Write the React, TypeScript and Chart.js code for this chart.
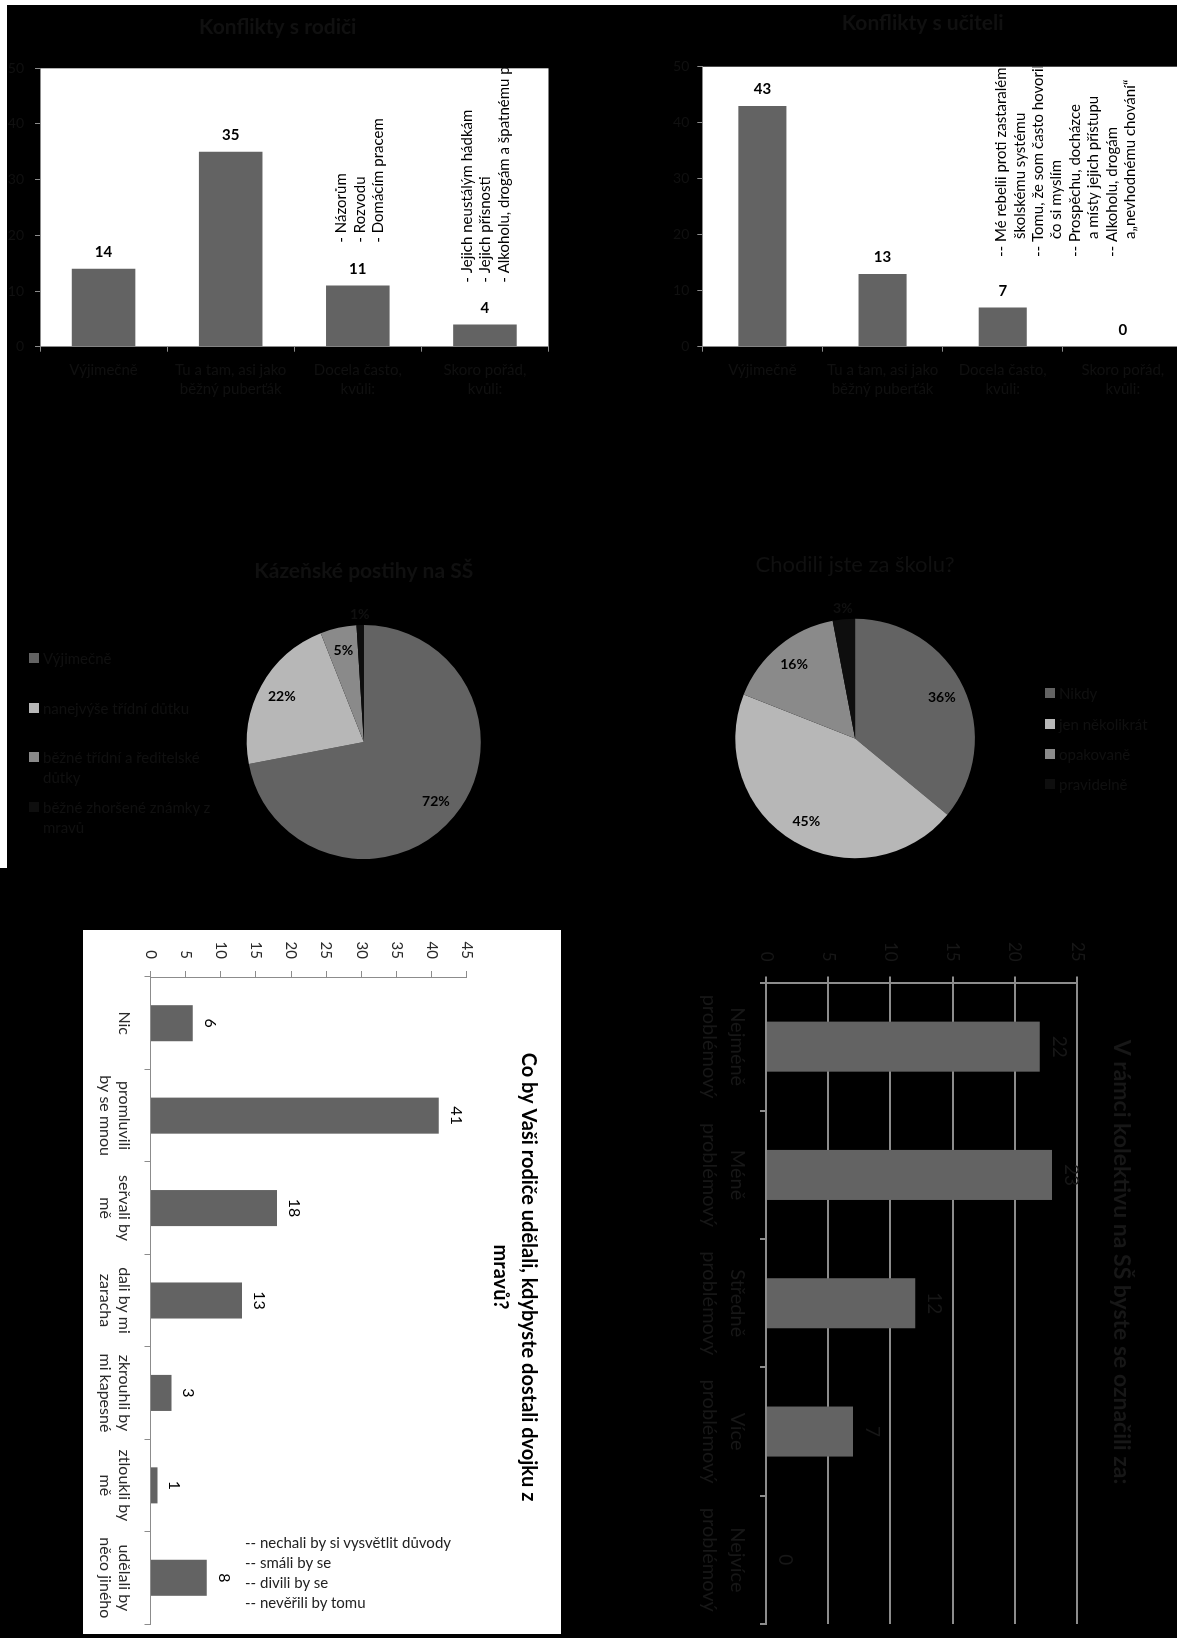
import React, { useEffect, useRef } from 'react';
import { Chart, registerables } from 'chart.js';

Chart.register(...registerables);

const FONT = "Lato, 'Noto Sans', sans-serif";
const DARK = '#101010';
const DARK2 = '#171717';
const AXIS = '#8c8c8c';
const BAR = '#636363';

// ---- Konflikty s rodiči ----
const rodiceLabels = [['Výjimečně'], ['Tu a tam, asi jako', 'běžný puberťák'], ['Docela často,', 'kvůli:'], ['Skoro pořád,', 'kvůli:']];
const rodiceValues = [14, 35, 11, 4];
const rodiceNote3 = ['- Názorům', '- Rozvodu', '- Domácím pracem'];
const rodiceNote4 = ['- Jejich neustálým hádkám', '- Jejich přísnosti', '- Alkoholu, drogám a špatnému p'];

// ---- Konflikty s učiteli ----
const uciteleLabels = [['Výjimečně'], ['Tu a tam, asi jako', 'běžný puberťák'], ['Docela často,', 'kvůli:'], ['Skoro pořád,', 'kvůli:']];
const uciteleValues = [43, 13, 7, 0];
const uciteleNote = [
  '-- Mé rebelii proti zastaralému',
  '  školskému systému',
  '-- Tomu, že som často hovorila',
  '  čo si myslím',
  '-- Prospěchu, docházce',
  '  a místy jejich přístupu',
  '-- Alkoholu, drogám',
  '  a„nevhodnému chování“',
];
const topTicks = { min: 0, max: 50, step: 10 };

// ---- Kázeňské postihy na SŠ ----
const postihyLabels = ['Výjimečně', 'nanejvýše třídní důtku', 'běžné třídní a ředitelské důtky', 'běžné zhoršené známky z mravů'];
const postihyValues = [72, 22, 5, 1];

// ---- Chodili jste za školu? ----
const skolaLabels = ['Nikdy', 'jen několikrát', 'opakovaně', 'pravidelně'];
const skolaValues = [36, 45, 16, 3];

const pieColors = ['#636363', '#b7b7b7', '#8a8a8a', '#0e0e0e'];

// ---- Co by Vaši rodiče udělali ----
const dvojkaLabels = [['Nic'], ['promluvili', 'by se mnou'], ['seřvali by', 'mě'], ['dali by mi', 'zaracha'], ['zkrouhli by', 'mi kapesné'], ['ztloukli by', 'mě'], ['udělali by', 'něco jiného']];
const dvojkaValues = [6, 41, 18, 13, 3, 1, 8];
const dvojkaNotes = ['-- nechali by si vysvětlit důvody', '-- smáli by se', '-- divili by se', '-- nevěřili by tomu'];
const dvojkaTicks = { min: 0, max: 45, step: 5 };

// ---- V rámci kolektivu ----
const kolektivLabels = [['Nejméně', 'problémový'], ['Méně', 'problémový'], ['Středně', 'problémový'], ['Více', 'problémový'], ['Nejvíce', 'problémový']];
const kolektivValues = [22, 23, 12, 7, 0];
const kolektivTicks = { min: 0, max: 25, step: 5 };

// ---------- plugins ----------
const plotBg = (color: string) => ({
  id: 'plotBg',
  beforeDraw(chart: any) {
    const { ctx, chartArea: a } = chart;
    ctx.save();
    ctx.fillStyle = color;
    ctx.fillRect(a.left, a.top, a.right - a.left, a.bottom - a.top);
    ctx.restore();
  },
});

const valueLabels = (size: number, weight: string, color: string, offset: number) => ({
  id: 'valueLabels',
  afterDatasetsDraw(chart: any) {
    const ctx = chart.ctx;
    const meta = chart.getDatasetMeta(0);
    const data = chart.data.datasets[0].data;
    ctx.save();
    ctx.font = `${weight} ${size}px ${FONT}`;
    ctx.fillStyle = color;
    ctx.textAlign = 'center';
    ctx.textBaseline = 'middle';
    meta.data.forEach((el: any, i: number) => {
      ctx.fillText(String(data[i]), el.x, el.y - offset);
    });
    ctx.restore();
  },
});

type NoteGroup = { index: number; lines: string[]; dx: number; gap: number };
const notes = (groups: NoteGroup[], size: number, spacing: number) => ({
  id: 'notes',
  afterDatasetsDraw(chart: any) {
    const { ctx, chartArea: a, scales } = chart;
    ctx.save();
    ctx.beginPath();
    ctx.rect(a.left, a.top, a.right - a.left, a.bottom - a.top);
    ctx.clip();
    ctx.font = `${size}px ${FONT}`;
    ctx.fillStyle = '#000';
    ctx.textBaseline = 'middle';
    ctx.textAlign = 'left';
    const indent = ctx.measureText('-- ').width + 3;
    groups.forEach((g) => {
      const val = chart.data.datasets[0].data[g.index];
      const x0 = scales.x.getPixelForValue(g.index) + g.dx;
      const y0 = scales.y.getPixelForValue(val) - g.gap;
      g.lines.forEach((line, j) => {
        const cont = line.startsWith(' ');
        ctx.save();
        ctx.translate(x0 + j * spacing, y0 - (cont ? indent : 0));
        ctx.rotate(-Math.PI / 2);
        ctx.fillText(line.trim(), 0, 0);
        ctx.restore();
      });
    });
    ctx.restore();
  },
});

const pieLabels = (size: number, inColor: string, outColor: string) => ({
  id: 'pieLabels',
  afterDatasetsDraw(chart: any) {
    const ctx = chart.ctx;
    const meta = chart.getDatasetMeta(0);
    const data = chart.data.datasets[0].data as number[];
    const total = data.reduce((s, v) => s + v, 0);
    ctx.save();
    ctx.font = `bold ${size}px ${FONT}`;
    ctx.textAlign = 'center';
    ctx.textBaseline = 'middle';
    meta.data.forEach((el: any, i: number) => {
      const p = el.getProps(['startAngle', 'endAngle', 'outerRadius', 'x', 'y'], true);
      const mid = (p.startAngle + p.endAngle) / 2;
      const small = data[i] / total < 0.04;
      const r = p.outerRadius * (small ? 1.09 : 0.8);
      ctx.fillStyle = small ? outColor : inColor;
      ctx.fillText(Math.round((data[i] / total) * 100) + '%', p.x + Math.cos(mid) * r, p.y + Math.sin(mid) * r);
    });
    ctx.restore();
  },
});

// ---------- config builders ----------
function topBarConfig(opts: {
  title: string; labels: string[][]; values: number[]; catPct: number;
  padLeft: number; padRight: number; titleTop: number; titleBottom: number;
  yWidth: number; yPad: number; xHeight: number; notesPlugin: any;
}) {
  return {
    type: 'bar',
    data: {
      labels: opts.labels,
      datasets: [{ data: opts.values, backgroundColor: BAR, borderWidth: 0, barPercentage: 1, categoryPercentage: opts.catPct }],
    },
    options: {
      responsive: false,
      animation: false,
      layout: { padding: { left: opts.padLeft, right: opts.padRight, top: 0, bottom: 0 } },
      plugins: {
        legend: { display: false },
        tooltip: { enabled: false },
        title: {
          display: true, text: opts.title, color: DARK,
          font: { family: FONT, size: 21, weight: 'bold', lineHeight: 1.2 },
          padding: { top: opts.titleTop, bottom: opts.titleBottom },
        },
      },
      scales: {
        y: {
          min: topTicks.min, max: topTicks.max,
          ticks: { stepSize: topTicks.step, color: DARK, font: { family: FONT, size: 14 }, padding: opts.yPad },
          grid: { drawOnChartArea: false, drawTicks: true, tickLength: 5, color: AXIS },
          border: { color: AXIS, width: 1 },
          afterFit: (s: any) => { s.width = opts.yWidth; },
        },
        x: {
          ticks: { color: DARK, font: { family: FONT, size: 15, lineHeight: 1.33 }, padding: 8, maxRotation: 0, autoSkip: false },
          grid: { drawOnChartArea: false, drawTicks: true, tickLength: 5, color: AXIS, offset: true },
          border: { color: AXIS, width: 1 },
          afterFit: (s: any) => { s.height = opts.xHeight; },
        },
      },
    },
    plugins: [plotBg('#ffffff'), valueLabels(15, 'bold', '#000', 16.5), opts.notesPlugin],
  };
}

function pieConfig(opts: {
  title: string; bold: boolean; size: number; labels: string[]; values: number[];
  pad: { left: number; right: number; top: number; bottom: number }; titleTop: number; titleBottom: number;
}) {
  return {
    type: 'pie',
    data: {
      labels: opts.labels,
      datasets: [{ data: opts.values, backgroundColor: pieColors, borderWidth: 0 }],
    },
    options: {
      responsive: false,
      animation: false,
      layout: { padding: opts.pad },
      plugins: {
        legend: { display: false },
        tooltip: { enabled: false },
        title: {
          display: true, text: opts.title, color: DARK,
          font: { family: FONT, size: opts.size, weight: opts.bold ? 'bold' : 'normal', lineHeight: 1.2 },
          padding: { top: opts.titleTop, bottom: opts.titleBottom },
        },
      },
    },
    plugins: [pieLabels(14, '#000', DARK)],
  };
}

function dvojkaConfig() {
  return {
    type: 'bar',
    data: {
      labels: dvojkaLabels,
      datasets: [{ data: dvojkaValues, backgroundColor: BAR, borderWidth: 0, barPercentage: 1, categoryPercentage: 0.39 }],
    },
    options: {
      responsive: false,
      animation: false,
      layout: { padding: { left: 0, right: 10, top: 0, bottom: 0 } },
      plugins: {
        legend: { display: false },
        tooltip: { enabled: false },
        title: {
          display: true,
          text: ['Co by Vaši rodiče udělali, kdybyste dostali dvojku z', 'mravů?'],
          color: '#000',
          font: { family: FONT, size: 20, weight: 'bold', lineHeight: 1.38 },
          padding: { top: 19.2, bottom: 19.6 },
        },
      },
      scales: {
        y: {
          min: dvojkaTicks.min, max: dvojkaTicks.max,
          ticks: { stepSize: dvojkaTicks.step, color: '#2a2a2a', font: { family: FONT, size: 15 }, padding: 12 },
          grid: { drawOnChartArea: false, drawTicks: true, tickLength: 6, color: AXIS },
          border: { color: AXIS, width: 1 },
          afterFit: (s: any) => { s.width = 47; },
        },
        x: {
          ticks: { color: '#2a2a2a', font: { family: FONT, size: 16, lineHeight: 1.2 }, padding: 11, maxRotation: 0, autoSkip: false },
          grid: { drawOnChartArea: false, drawTicks: true, tickLength: 6, color: AXIS, offset: true },
          border: { color: AXIS, width: 1 },
          afterFit: (s: any) => { s.height = 67.5; },
        },
      },
    },
    plugins: [valueLabels(16, 'normal', '#000', 17)],
  };
}

function kolektivConfig() {
  return {
    type: 'bar',
    data: {
      labels: kolektivLabels,
      datasets: [{ data: kolektivValues, backgroundColor: BAR, borderWidth: 0, barPercentage: 1, categoryPercentage: 0.39 }],
    },
    options: {
      responsive: false,
      animation: false,
      layout: { padding: { left: 0, right: 47, top: 0, bottom: 0 } },
      plugins: {
        legend: { display: false },
        tooltip: { enabled: false },
        title: {
          display: true,
          text: 'V rámci kolektivu na SŠ byste se označili za:',
          color: DARK2,
          font: { family: FONT, size: 23, weight: 'bold', lineHeight: 1.2 },
          padding: { top: 25.2, bottom: 30.2 },
        },
      },
      scales: {
        y: {
          min: kolektivTicks.min, max: kolektivTicks.max,
          ticks: { stepSize: kolektivTicks.step, color: DARK2, font: { family: FONT, size: 17 }, padding: 14.8 },
          grid: { drawOnChartArea: true, drawTicks: true, tickLength: 6, color: AXIS, lineWidth: 2 },
          border: { color: AXIS, width: 2 },
          afterFit: (s: any) => { s.width = 82.5; },
        },
        x: {
          ticks: { color: DARK2, font: { family: FONT, size: 20, lineHeight: 1.4 }, padding: 9, maxRotation: 0, autoSkip: false },
          grid: { drawOnChartArea: false, drawTicks: true, tickLength: 6, color: AXIS, lineWidth: 2, offset: true },
          border: { color: AXIS, width: 2 },
          afterFit: (s: any) => { s.height = 116; },
        },
      },
    },
    plugins: [valueLabels(19, 'normal', DARK2, 19)],
  };
}

// ---------- components ----------
function ChartCanvas(props: { left: number; top: number; w: number; h: number; rotate?: boolean; bg?: string; make: () => any }) {
  const ref = useRef<HTMLCanvasElement>(null);
  useEffect(() => {
    const chart = new Chart(ref.current as HTMLCanvasElement, props.make());
    return () => chart.destroy();
  }, []);
  const style: any = {
    position: 'absolute', left: props.left, top: props.top, width: props.w, height: props.h,
    background: props.bg || 'transparent',
  };
  if (props.rotate) {
    style.transformOrigin = '0 0';
    style.transform = `translate(${props.h}px, 0px) rotate(90deg)`;
  }
  return (
    <div style={style}>
      <canvas ref={ref} width={props.w} height={props.h} style={{ display: 'block', width: props.w, height: props.h }} />
    </div>
  );
}

function Legend(props: { left: number; top: number; step: number; labels: string[]; width: number }) {
  return (
    <>
      {props.labels.map((lab, i) => (
        <div key={i} style={{ position: 'absolute', left: props.left, top: props.top + i * props.step, width: props.width, display: 'flex', alignItems: 'flex-start' }}>
          <div style={{ width: 10, height: 10, marginTop: 5, marginRight: 4, flex: '0 0 10px', background: pieColors[i] }} />
          <div style={{ font: `15px ${FONT}`, lineHeight: '20px', color: DARK }}>{lab}</div>
        </div>
      ))}
    </>
  );
}

export default function App() {
  return (
    <div style={{ position: 'absolute', left: 0, top: 0, width: 1177, height: 1638, overflow: 'hidden', background: '#fff' }}>
      <div style={{ position: 'absolute', left: 7, top: 5, width: 1170, height: 863, background: '#000' }} />
      <div style={{ position: 'absolute', left: 0, top: 868, width: 1177, height: 770, background: '#000' }} />

      <ChartCanvas left={7} top={5} w={566} h={420} make={() => topBarConfig({
        title: 'Konflikty s rodiči', labels: rodiceLabels, values: rodiceValues, catPct: 0.5,
        padLeft: 0, padRight: 24.5, titleTop: 9.4, titleBottom: 28.7, yWidth: 33, yPad: 11, xHeight: 78.3,
        notesPlugin: notes([
          { index: 2, lines: rodiceNote3, dx: -16.5, gap: 42.8 },
          { index: 3, lines: rodiceNote4, dx: -18, gap: 41.7 },
        ], 15, 18.5),
      })} />

      <ChartCanvas left={590} top={5} w={685} h={420} make={() => topBarConfig({
        title: 'Konflikty s učiteli', labels: uciteleLabels, values: uciteleValues, catPct: 0.4,
        padLeft: 72.3, padRight: 92, titleTop: 5.4, titleBottom: 31.1, yWidth: 40, yPad: 8, xHeight: 78.3,
        notesPlugin: notes([{ index: 2, lines: uciteleNote, dx: -1.3, gap: 50.5 }], 15, 18.4),
      })} />

      <ChartCanvas left={13} top={540} w={580} h={324} make={() => pieConfig({
        title: 'Kázeňské postihy na SŠ', bold: true, size: 21, labels: postihyLabels, values: postihyValues,
        pad: { left: 233.8, right: 112.2, top: 0, bottom: 5 }, titleTop: 19.1, titleBottom: 40.7,
      })} />
      <Legend left={29} top={648} step={49.5} labels={postihyLabels} width={185} />

      <ChartCanvas left={660} top={540} w={519} h={324} make={() => pieConfig({
        title: 'Chodili jste za školu?', bold: false, size: 22, labels: skolaLabels, values: skolaValues,
        pad: { left: 75.3, right: 204.1, top: 0, bottom: 5.7 }, titleTop: 11.8, titleBottom: 40.5,
      })} />
      <Legend left={1045} top={683.3} step={30.3} labels={skolaLabels} width={130} />

      <ChartCanvas left={83} top={930} w={704} h={478} rotate bg="#ffffff" make={dvojkaConfig} />
      <div style={{ position: 'absolute', left: 245, top: 1531.6, font: `15px ${FONT}`, lineHeight: '20px', color: '#222', whiteSpace: 'pre' }}>
        {dvojkaNotes.map((t, i) => (<div key={i}>{t}</div>))}
      </div>

      <ChartCanvas left={650} top={900} w={771} h={510} rotate make={kolektivConfig} />
    </div>
  );
}
